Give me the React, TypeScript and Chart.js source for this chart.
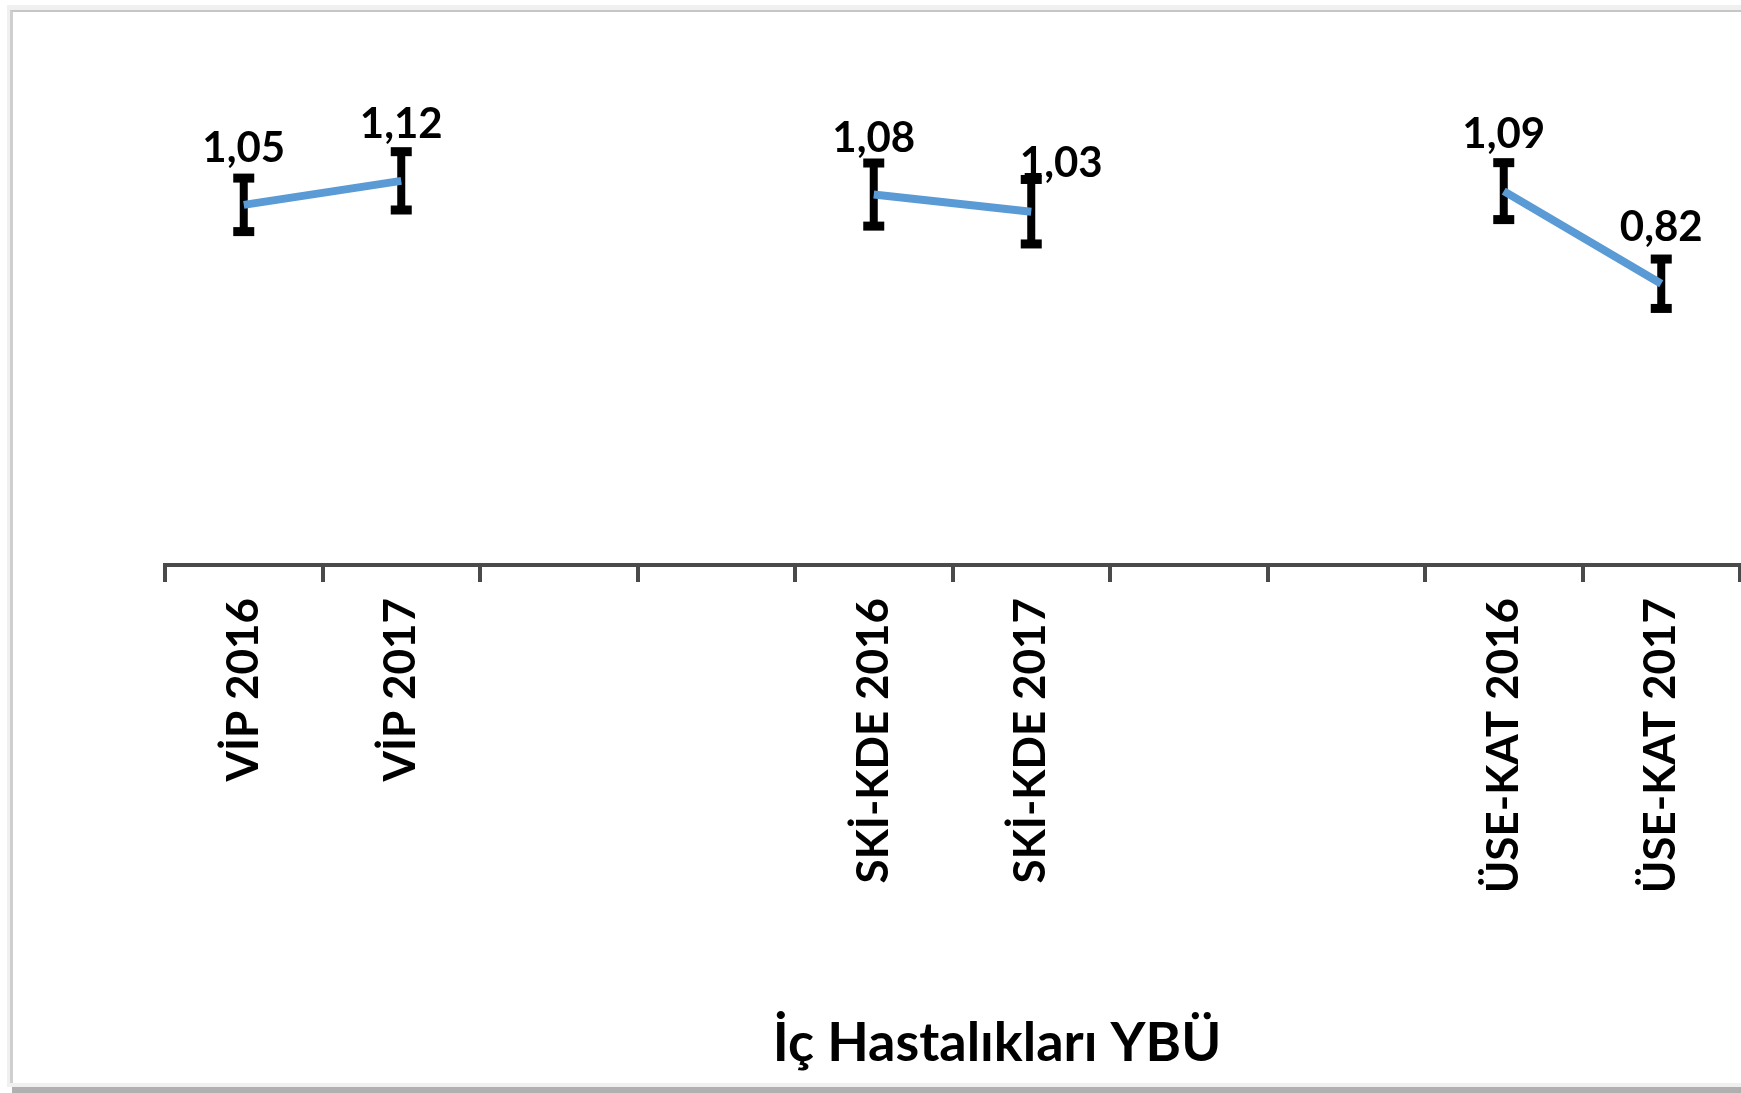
import React, { useEffect, useRef } from "react";
import { Chart, registerables } from "chart.js";

Chart.register(...registerables);

// ---- data ----
const categories = [
  "VİP 2016",
  "VİP 2017",
  "",
  "",
  "SKİ-KDE 2016",
  "SKİ-KDE 2017",
  "",
  "",
  "ÜSE-KAT 2016",
  "ÜSE-KAT 2017",
];
const values: (number | null)[] = [1.05, 1.12, null, null, 1.08, 1.03, null, null, 1.09, 0.82];
const errors: (number | null)[] = [0.078, 0.085, null, null, 0.092, 0.094, null, null, 0.083, 0.072];
const axisTitle = "İç Hastalıkları YBÜ";

const FONT = "Lato, 'Open Sans', sans-serif";

const errorBarPlugin = {
  id: "errorBars",
  beforeDatasetsDraw(chart: any) {
    const { ctx, scales } = chart;
    const x = scales.x;
    const y = scales.y;
    ctx.save();
    ctx.fillStyle = "#000000";
    values.forEach((v, i) => {
      const e = errors[i];
      if (v == null || e == null) return;
      const px = x.getPixelForValue(i);
      const top = y.getPixelForValue(v + e);
      const bot = y.getPixelForValue(v - e);
      ctx.fillRect(px - 4, top, 8, bot - top);
      ctx.fillRect(px - 10.5, top - 4.5, 21, 9);
      ctx.fillRect(px - 10.5, bot - 4.5, 21, 9);
    });
    ctx.restore();
  },
};

const dataLabelPlugin = {
  id: "dataLabels",
  afterDatasetsDraw(chart: any, _args: any, opts: any) {
    const { ctx, scales } = chart;
    const x = scales.x;
    const y = scales.y;
    const nudge = (opts && opts.nudge) || {};
    ctx.save();
    ctx.fillStyle = "#000000";
    ctx.font = `bold 42px ${FONT}`;
    ctx.textAlign = "center";
    ctx.textBaseline = "alphabetic";
    values.forEach((v, i) => {
      if (v == null) return;
      const n = nudge[i] || { dx: 0, dy: 0 };
      const px = x.getPixelForValue(i) + n.dx;
      const py = y.getPixelForValue(v) - 43 + n.dy;
      ctx.fillText(v.toFixed(2).replace(".", ","), px, py);
    });
    ctx.restore();
  },
};

// Axis title placed like the original (Excel) title, off-centre to the right
const axisTitlePlugin = {
  id: "axisTitleText",
  afterDraw(chart: any, _args: any, opts: any) {
    const { ctx } = chart;
    ctx.save();
    ctx.fillStyle = "#000000";
    ctx.font = `bold 54px ${FONT}`;
    ctx.textAlign = "center";
    ctx.textBaseline = "alphabetic";
    ctx.fillText(opts.text, opts.x, opts.y);
    ctx.restore();
  },
};

export default function App() {
  const canvasRef = useRef<HTMLCanvasElement | null>(null);

  useEffect(() => {
    const canvas = canvasRef.current;
    if (!canvas) return;
    const chart = new Chart(canvas, {
      type: "line",
      data: {
        labels: categories,
        datasets: [
          {
            data: values,
            borderColor: "#5B9BD5",
            backgroundColor: "#5B9BD5",
            borderWidth: 8,
            pointRadius: 0,
            pointHoverRadius: 0,
            spanGaps: false,
            tension: 0,
            fill: false,
          },
        ],
      },
      options: {
        animation: false,
        responsive: false,
        maintainAspectRatio: false,
        layout: { padding: { top: 38.5, left: 152, right: 1, bottom: 0 } },
        plugins: {
          legend: { display: false },
          tooltip: { enabled: false },
          dataLabels: { nudge: { 5: { dx: 30, dy: 8 } } },
          axisTitleText: { text: axisTitle, x: 984, y: 1049 },
        } as any,
        scales: {
          x: {
            type: "category",
            offset: true,
            grid: {
              offset: true,
              drawOnChartArea: false,
              drawTicks: true,
              tickLength: 17,
              color: "#4a4a4a",
              lineWidth: 4,
            },
            border: { display: true, color: "#4a4a4a", width: 4 },
            ticks: {
              autoSkip: false,
              maxRotation: 90,
              minRotation: 90,
              padding: 16,
              color: "#000000",
              font: { family: FONT, size: 44, weight: "bold" },
            },
            afterFit: (s: any) => {
              s.height = 518;
            },
          },
          y: { display: false, min: 0, max: 1.5 },
        },
      } as any,
      plugins: [errorBarPlugin, dataLabelPlugin, axisTitlePlugin],
    });
    return () => chart.destroy();
  }, []);

  return (
    <div
      style={{
        position: "fixed",
        left: 0,
        top: 0,
        width: 1741,
        height: 1093,
        overflow: "hidden",
        background: "#ffffff",
      }}
    >
      <div
        style={{
          position: "absolute",
          left: 7,
          top: 5,
          width: 1800,
          height: 1082,
          background: "#f0f0f0",
        }}
      />
      <div
        style={{
          position: "absolute",
          left: 12,
          top: 1087,
          width: 1800,
          height: 6,
          background: "#b0b0b0",
        }}
      />
      <div
        style={{
          position: "absolute",
          left: 10,
          top: 10,
          width: 1800,
          height: 1073,
          boxSizing: "border-box",
          borderLeft: "3px solid #cfcfcf",
          borderTop: "2px solid #c6c6c6",
          background: "#ffffff",
        }}
      />
      <canvas
        ref={canvasRef}
        width={1728}
        height={1071}
        style={{ position: "absolute", left: 13, top: 12, width: 1728, height: 1071 }}
      />
    </div>
  );
}
